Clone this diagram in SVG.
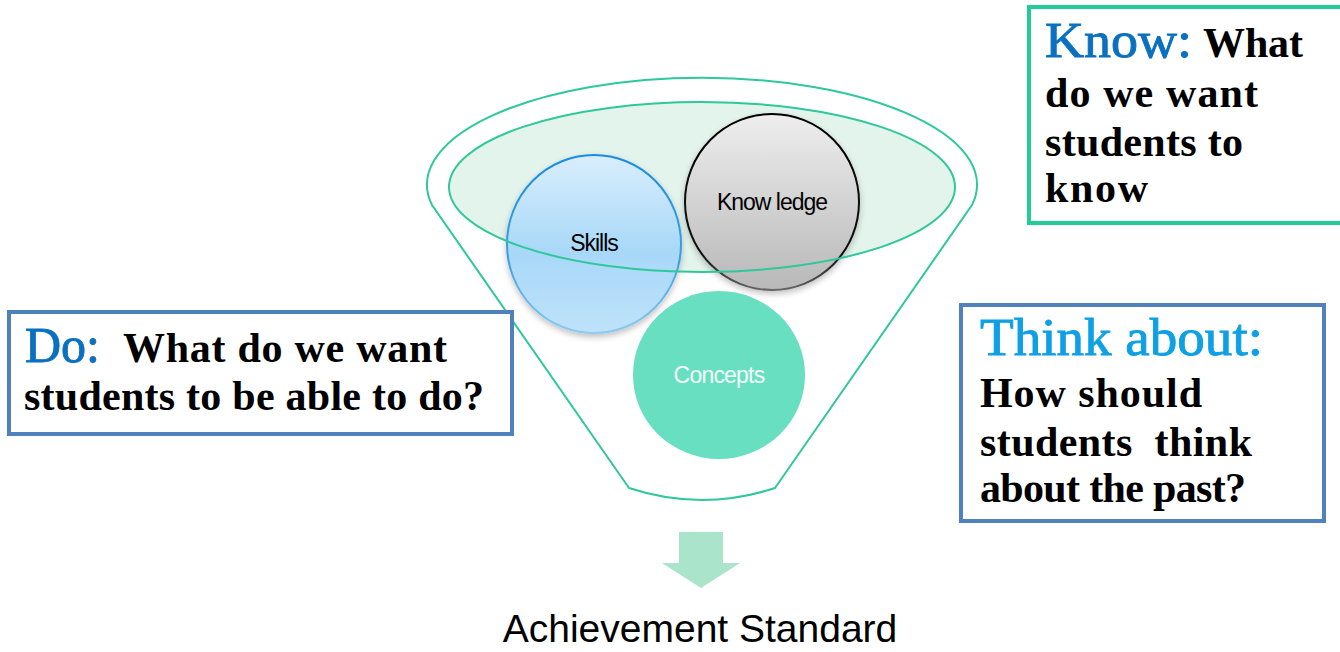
<svg xmlns="http://www.w3.org/2000/svg" width="1340" height="652" viewBox="0 0 1340 652">
<style>
.lbl{font-family:"Liberation Sans",Arial,sans-serif;fill:#000}
.hd{font-family:"Liberation Serif","Times New Roman",serif;font-weight:normal;stroke-width:0.9}
.bd{font-family:"Liberation Serif","Times New Roman",serif;font-weight:bold;font-size:42px;fill:#000}
.box{fill:#fff;stroke-width:4}
.funnel{fill:none;stroke:#2ec89a;stroke-width:2}
</style>
<defs>
<linearGradient id="gSk" x1="0" y1="0" x2="0" y2="1">
<stop offset="0" stop-color="#d9eefd"/><stop offset="0.55" stop-color="#a8d8f8"/><stop offset="1" stop-color="#bfe2fa"/>
</linearGradient>
<linearGradient id="gSkS" x1="0" y1="0" x2="0" y2="1">
<stop offset="0" stop-color="#1a8ce0"/><stop offset="0.6" stop-color="#3a9fe6"/><stop offset="1" stop-color="#8ecbf0"/>
</linearGradient>
<linearGradient id="gKn" x1="0" y1="0" x2="0" y2="1">
<stop offset="0" stop-color="#eeeeee"/><stop offset="1" stop-color="#b8b8b8"/>
</linearGradient>
<linearGradient id="gKnS" x1="0" y1="0" x2="0" y2="1">
<stop offset="0" stop-color="#000"/><stop offset="0.8" stop-color="#111"/><stop offset="1" stop-color="#666"/>
</linearGradient>
<filter id="sh" x="-20%" y="-20%" width="140%" height="140%">
<feGaussianBlur in="SourceAlpha" stdDeviation="3"/><feOffset dy="3"/>
<feComponentTransfer><feFuncA type="linear" slope="0.25"/></feComponentTransfer>
<feMerge><feMergeNode/><feMergeNode in="SourceGraphic"/></feMerge>
</filter>
</defs>

<g id="funnel">
<path class="funnel" d="M432,205 A275,107 0 1 1 972,205 L775,488 Q702,512 629,488 Z"/>
<ellipse cx="702" cy="187" rx="253" ry="85" fill="#e3f4ec" stroke="none"/>
</g>

<g id="skills">
<ellipse cx="594" cy="244" rx="87" ry="89" fill="url(#gSk)" stroke="url(#gSkS)" stroke-width="2" filter="url(#sh)"/>
<text class="lbl" x="594" y="251" font-size="23" text-anchor="middle" letter-spacing="-1">Skills</text>
</g>

<g id="knowledge">
<ellipse cx="772" cy="202" rx="87" ry="88" fill="url(#gKn)" stroke="url(#gKnS)" stroke-width="2" filter="url(#sh)"/>
<text class="lbl" x="772" y="210" font-size="23" text-anchor="middle" letter-spacing="-1">Know ledge</text>
</g>

<g id="concepts">
<ellipse cx="719" cy="375" rx="86" ry="84" fill="#68dfc0"/>
<text x="719" y="383" font-family="Liberation Sans,Arial,sans-serif" font-size="23" fill="#f2fffa" text-anchor="middle" letter-spacing="-0.8">Concepts</text>
</g>

<g id="funnel-overlay">
<ellipse cx="702" cy="187" rx="253" ry="85" fill="none" stroke="#2ec89a" stroke-width="2"/>
</g>

<g id="connectors">
<path d="M679,532 H723 V563 H740 L701,588 L662,563 H679 Z" fill="#a9e4cb"/>
</g>

<g id="achievement">
<text class="lbl" x="700" y="642" font-size="39" text-anchor="middle">Achievement Standard</text>
</g>

<g id="know-box">
<rect class="box" x="1029" y="7" width="320" height="216" stroke="#22cc99"/>
<text class="hd" x="1045" y="57" font-size="50" fill="#0a70c0" stroke="#0a70c0" textLength="147" lengthAdjust="spacingAndGlyphs">Know:</text>
<text class="bd" x="1203" y="57" textLength="100">What</text>
<text class="bd" x="1045" y="107" textLength="213">do we want</text>
<text class="bd" x="1045" y="156" textLength="198">students to</text>
<text class="bd" x="1045" y="202" textLength="103">know</text>
</g>

<g id="do-box">
<rect class="box" x="9" y="312" width="503" height="122" stroke="#4f81bd"/>
<text class="hd" x="25" y="362" font-size="50" fill="#0a70c0" stroke="#0a70c0" textLength="75" lengthAdjust="spacingAndGlyphs">Do:</text>
<text class="bd" x="123" y="362" textLength="324">What do we want</text>
<text class="bd" x="24" y="410" textLength="460">students to be able to do?</text>
</g>

<g id="think-box">
<rect class="box" x="961" y="305" width="363" height="216" stroke="#4f81bd"/>
<text class="hd" x="980" y="355" font-size="52" fill="#0ea0e4" stroke="#0ea0e4" textLength="283" lengthAdjust="spacingAndGlyphs">Think about:</text>
<text class="bd" x="980" y="407" textLength="222">How should</text>
<text class="bd" x="980" y="456" textLength="272" xml:space="preserve">students  think</text>
<text class="bd" x="980" y="502" textLength="266">about the past?</text>
</g>
</svg>
